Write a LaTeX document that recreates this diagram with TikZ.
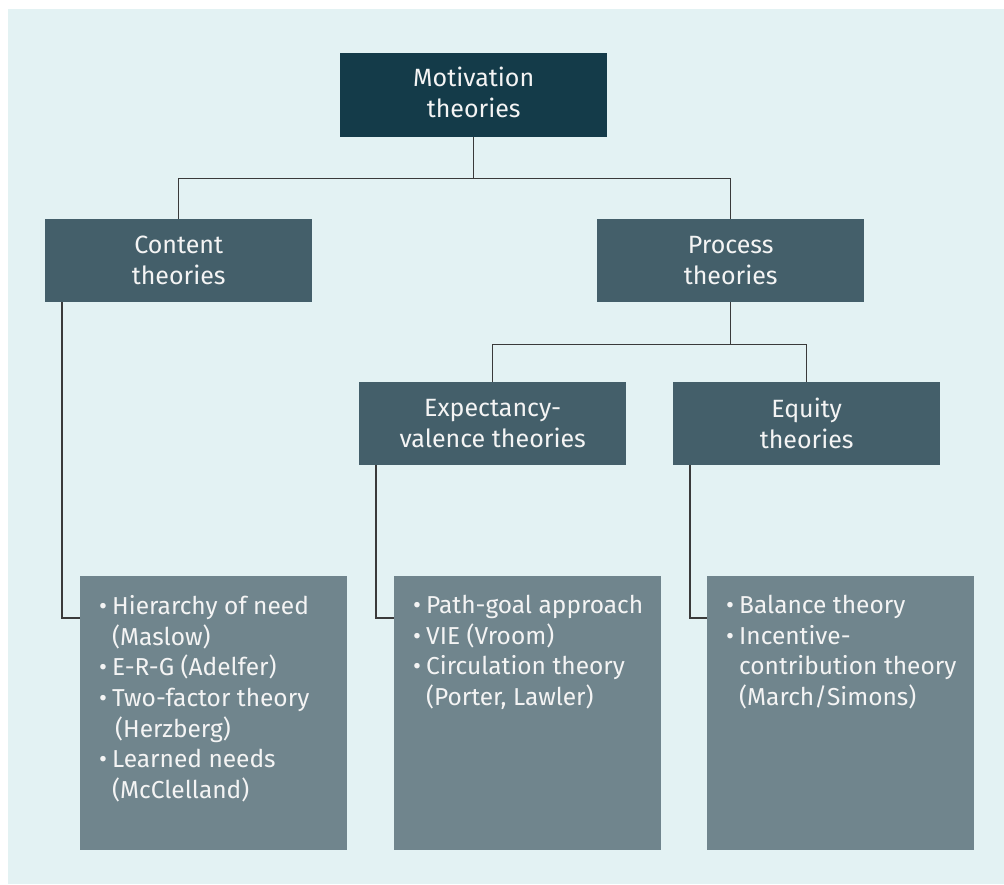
\documentclass[tikz,border=0pt]{standalone}
\usepackage{fontspec}
\setmainfont{Fira Sans}
\definecolor{panelbg}{HTML}{E3F2F3}
\definecolor{rootfill}{HTML}{143B49}
\definecolor{midfill}{HTML}{445F6A}
\definecolor{listfill}{HTML}{70858D}
\definecolor{linkcol}{HTML}{3A3A3A}
\definecolor{boxtext}{HTML}{F4F4F4}
% one bullet item with a hanging indent for its continuation lines
\newcommand\listitem[1]{\par\noindent\hangindent=13pt\hangafter=1
  \makebox[13pt][l]{•}#1\par}
\newcommand\listbody[1]{\parbox[c][274pt][t]{245pt}{\vspace*{19pt}#1}}
\begin{document}
\begin{tikzpicture}[x=1pt,y=-1pt,
  boxbase/.style={rectangle,anchor=north west,inner sep=0pt,
    minimum width=267pt,text=boxtext,
    font=\fontsize{25}{31}\selectfont},
  rootbox/.style={boxbase,fill=rootfill,minimum height=84pt,align=center},
  midbox/.style={boxbase,fill=midfill,minimum height=83pt,align=center},
  listbox/.style={boxbase,fill=listfill,minimum height=274pt,
    font=\fontsize{24.5}{30.7}\selectfont},
  link/.style={draw=linkcol,line width=1.4pt}]
\useasboundingbox (0,0) rectangle (1004,884);
\fill[panelbg] (8,9) rectangle (1004,884);

% boxes
\node[rootbox] (root) at (340,53) {\parbox{200pt}{\centering Motivation\\theories\par\vspace{6pt}}};
\node[midbox] (content) at (45,219) {Content\\theories};
\node[midbox] (process) at (597,219) {Process\\theories};
\node[midbox] (expect) at (359,382) {Expectancy-\\valence theories};
\node[midbox] (equity) at (673,382) {Equity\\theories};

\node[listbox] (clist) at (80,576) {\hspace*{16pt}\listbody{%
  \listitem{Hierarchy of need\\(Maslow)}
  \listitem{E-R-G (Adelfer)}
  \listitem{Two-factor theory\\\hspace*{3pt}(Herzberg)}
  \listitem{Learned needs\\(McClelland)}}};
\node[listbox] (elist) at (394,576) {\hspace*{16pt}\listbody{%
  \listitem{Path-goal approach}
  \listitem{VIE (Vroom)}
  \listitem{Circulation theory\\(Porter, Lawler)}}};
\node[listbox] (qlist) at (707,576) {\hspace*{16pt}\listbody{%
  \listitem{Balance theory}
  \listitem{Incentive-\\contribution theory\\(March/Simons)}}};

% connectors
\draw[link] (root.south) -- ++(0,41) coordinate (rootjoin);
\draw[link] (content.north) |- (rootjoin) -| (process.north);
\draw[link] (process.south) -- ++(0,42) coordinate (procjoin);
\draw[link] (expect.north) |- (procjoin) -| (equity.north);
\draw[link] ([xshift=17pt]content.south west) |- ([yshift=-42pt]clist.north west);
\draw[link] ([xshift=17pt]expect.south west) |- ([yshift=-42pt]elist.north west);
\draw[link] ([xshift=17pt]equity.south west) |- ([yshift=-42pt]qlist.north west);
\end{tikzpicture}
\end{document}
